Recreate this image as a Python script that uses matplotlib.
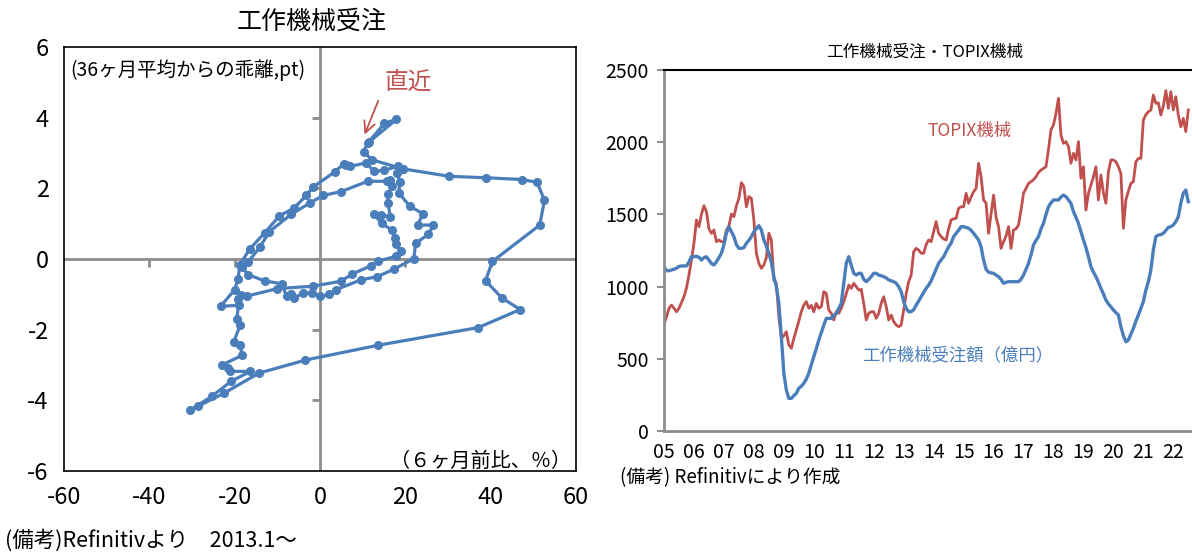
import matplotlib.pyplot as plt
import numpy as np

plt.rcParams['font.family'] = ['Noto Sans CJK JP', 'DejaVu Sans']
plt.rcParams['axes.unicode_minus'] = False

BLUE = '#4a7ebb'
RED = '#c0504d'
GRAY = '#8c8c8c'
NUM_FONT = ['Liberation Sans Narrow', 'Noto Sans CJK JP']

# 工作機械受注のサイクル (2013.1～): x = 6ヶ月前比(%), y = 36ヶ月平均からの乖離(pt)
chg_6m = [
    -19.2, -18.6, -17.1, -10.1, -1.7, 4.9, 7.6, 12.0, 13.6, 17.9, 18.9, 17.7,
    17.5, 16.9, 14.5, 12.6, 14.3, 16.5, 15.9, 15.9, 16.9, 16.5, 15.8, 11.2,
    5.0, 0.8, -2.3, -6.8, -11.9, -14.1, -16.9, -18.3,
    -16.9, -13.0, -9.0, -7.8, -6.8, -6.0, -4.0, -1.8, 0.1, 2.1, 3.7, 9.6,
    13.4, 17.3, 22.0,
    22.4, 25.4, 26.6, 22.9, 24.1, 21.0, 18.5, 18.7, 18.1, 19.5, 18.3, 15.0,
    12.7, 10.8, 7.0, 6.0, 5.6, 3.4, -1.6, -3.2, -6.0, -9.5, -12.9, -16.5, -18.8,
    -19.2, -20.0, -23.3, -19.1, -19.5, -18.7, -20.2, -18.7, -18.3, -23.0,
    -21.6, -21.2, -16.3, -20.8, -25.4, -30.4, -28.6, -22.4, -14.3, -3.4,
    13.7, 37.1, 46.9, 42.6, 38.8, 40.4, 51.5, 52.6, 50.9, 47.3, 38.8, 30.3,
    19.5, 12.1, 10.2, 11.2, 15.1, 17.9, 11.6,
]
dev_36m = [
    -1.12, -1.03, -1.05, -0.84, -0.77, -0.63, -0.42, -0.19, -0.06, 0.08, 0.22, 0.42,
    0.59, 0.81, 1.01, 1.26, 1.24, 1.20, 1.59, 1.83, 2.08, 2.23, 2.20, 2.20,
    1.91, 1.80, 1.59, 1.26, 0.77, 0.33, -0.09, -0.23,
    -0.44, -0.62, -0.70, -1.06, -1.00, -1.10, -0.96, -0.96, -1.06, -1.00, -0.87, -0.59,
    -0.50, -0.29, 0.01,
    0.44, 0.70, 0.96, 0.96, 1.28, 1.50, 1.87, 2.17, 2.44, 2.55, 2.62, 2.51,
    2.48, 2.72, 2.62, 2.67, 2.70, 2.46, 2.04, 1.80, 1.45, 1.22, 0.75, 0.28, -0.17,
    -0.56, -0.87, -1.34, -1.31, -1.69, -1.87, -2.34, -2.42, -2.73, -3.00,
    -3.09, -3.18, -3.18, -3.46, -3.89, -4.28, -4.17, -3.79, -3.23, -2.86,
    -2.44, -1.94, -1.43, -1.10, -0.61, -0.07, 0.96, 1.66, 2.17, 2.25, 2.30, 2.34,
    2.55, 2.81, 3.04, 3.28, 3.84, 3.95, 3.32,
]

# 月次 2005.1～2022.7
orders = [
    1138, 1110, 1110, 1115, 1120, 1127, 1140, 1143, 1143, 1143, 1170, 1207,
    1207, 1210, 1203, 1184, 1200, 1207, 1184, 1160, 1150, 1172, 1200, 1231,
    1290, 1370, 1415, 1380, 1346, 1290, 1265, 1265, 1270, 1300, 1320, 1346,
    1380, 1400, 1422, 1392, 1323, 1280, 1231, 1170, 1069, 1000, 884, 653,
    400, 284, 226, 226, 245, 261, 296, 310, 330, 360, 400, 460,
    515, 570, 630, 680, 734, 780, 780, 780, 800, 815, 850, 884,
    1023, 1161, 1207, 1150, 1092, 1080, 1092, 1092, 1050, 1034, 1050, 1069,
    1092, 1092, 1080, 1075, 1069, 1060, 1046, 1040, 1034, 1023, 999, 965,
    896, 850, 826, 826, 840, 872, 900, 930, 960, 988, 1010, 1040,
    1080, 1120, 1161, 1185, 1207, 1242, 1276, 1300, 1346, 1369, 1390, 1415,
    1415, 1410, 1404, 1390, 1369, 1346, 1323, 1276, 1184, 1120, 1100, 1095,
    1092, 1080, 1069, 1050, 1023, 1030, 1034, 1034, 1034, 1034, 1034, 1050,
    1080, 1120, 1161, 1220, 1288, 1320, 1346, 1400, 1438, 1500, 1553, 1580,
    1600, 1600, 1600, 1620, 1634, 1623, 1600, 1577, 1519, 1480, 1438, 1380,
    1323, 1270, 1207, 1138, 1100, 1069, 1030, 988, 950, 907, 880, 860,
    838, 820, 803, 722, 660, 618, 630, 670, 711, 760, 803, 850,
    896, 976, 1034, 1115, 1253, 1346, 1357, 1360, 1369, 1390, 1410, 1415,
    1427, 1450, 1484, 1577, 1646, 1669, 1588,
]
topix_mach = [
    741, 790, 850, 872, 850, 826, 850, 890, 930, 990, 1080, 1184,
    1300, 1461, 1415, 1500, 1560, 1519, 1400, 1369, 1392, 1311, 1323, 1311,
    1311, 1392, 1420, 1503, 1484, 1560, 1611, 1720, 1692, 1553, 1623, 1611,
    1461, 1231, 1161, 1127, 1150, 1200, 1369, 1323, 1046, 1023, 792, 642,
    660, 688, 596, 573, 640, 700, 760, 826, 872, 896, 850, 870,
    826, 884, 850, 861, 965, 953, 838, 815, 769, 826, 815, 850,
    896, 950, 1011, 988, 1023, 1000, 976, 981, 884, 769, 815, 826,
    826, 780, 815, 884, 930, 861, 769, 803, 757, 734, 722, 734,
    838, 950, 1034, 1080, 1242, 1265, 1253, 1231, 1231, 1290, 1323, 1311,
    1380, 1450, 1369, 1346, 1330, 1323, 1400, 1461, 1470, 1473, 1542, 1553,
    1553, 1646, 1577, 1620, 1657, 1680, 1854, 1761, 1600, 1577, 1369, 1500,
    1634, 1480, 1415, 1265, 1311, 1350, 1415, 1265, 1392, 1400, 1427, 1530,
    1646, 1680, 1715, 1727, 1740, 1761, 1790, 1807, 1819, 1830, 1950, 2085,
    2119, 2200, 2304, 2050, 1992, 2004, 1969, 1854, 1923, 1877, 2004, 1750,
    1830, 1530, 1646, 1704, 1760, 1830, 1600, 1773, 1650, 1577, 1796, 1877,
    1877, 1865, 1830, 1785, 1404, 1600, 1660, 1715, 1727, 1865, 1888, 1888,
    2154, 2190, 2211, 2223, 2327, 2269, 2273, 2188, 2250, 2357, 2235, 2350,
    2223, 2315, 2188, 2107, 2165, 2073, 2223,
]
year_ticks = list(range(2005, 2023))

W, H = 1192, 554
fig = plt.figure(figsize=(W / 100, H / 100), dpi=100)

# ---- 左: 工作機械受注サイクル ----
ax1 = fig.add_axes([64 / W, 83 / H, 512 / W, 424 / H])
ax1.axhline(0, color=GRAY, lw=2, zorder=1)
ax1.axvline(0, color=GRAY, lw=2, zorder=1)
ax1.plot([-40, -20, 20, 40], [0] * 4, ls='none', marker=3, ms=6, mew=2, color=GRAY, zorder=1)
ax1.plot([0] * 4, [-4, -2, 2, 4], ls='none', marker=0, ms=6, mew=2, color=GRAY, zorder=1)
ax1.plot(chg_6m, dev_36m, '-o', color=BLUE, lw=2.3, ms=5.5, zorder=3)
ax1.set_xlim(-60, 60)
ax1.set_ylim(-6, 6)
ax1.set_xticks(range(-60, 61, 20))
ax1.set_yticks(range(-6, 7, 2))
ax1.tick_params(length=0, labelsize=17, pad=11)
for lab in ax1.get_xticklabels() + ax1.get_yticklabels():
    lab.set_family(NUM_FONT)
for s in ax1.spines.values():
    s.set_color('black')
    s.set_linewidth(1.2)

ax1.text(0.012, 0.946, '(36ヶ月平均からの乖離,pt)', transform=ax1.transAxes,
         fontsize=14, va='center', ha='left')
ax1.text(0.99, 0.022, '（６ヶ月前比、％）', transform=ax1.transAxes,
         fontsize=14.5, va='center', ha='right')
ax1.text(20.6, 5.0, '直近', color=RED, fontsize=17, ha='center', va='center')
ax1.annotate('', xy=(10.2, 3.45), xytext=(13.9, 4.55),
             arrowprops=dict(arrowstyle='->', color=RED, lw=1.3, mutation_scale=20))

fig.text(312 / W, 1 - 22 / H, '工作機械受注', fontsize=18, ha='center', va='center')
fig.text(5 / W, 1 - 540 / H, '(備考)Refinitivより　2013.1～', fontsize=15.5, ha='left', va='center')

# ---- 右: 工作機械受注額とTOPIX機械 ----
t = 2005 + np.arange(len(orders)) / 12
ax2 = fig.add_axes([664 / W, 123 / H, 528 / W, 361 / H])
ax2.plot(t, topix_mach, color=RED, lw=2)
ax2.plot(t, orders, color=BLUE, lw=2.4)
ax2.set_xlim(2005, 2005 + 528 / 29.96)
ax2.set_ylim(0, 2500)
ax2.set_yticks(range(0, 2501, 500))
ax2.set_xticks(year_ticks)
ax2.set_xticklabels([f'{y % 100:02d}' for y in year_ticks])
ax2.tick_params(axis='y', length=5, width=1.5, color=GRAY, labelsize=14, pad=6)
ax2.tick_params(axis='x', length=0, labelsize=14, pad=8)
for lab in ax2.get_xticklabels() + ax2.get_yticklabels():
    lab.set_family(NUM_FONT)
ax2.spines['right'].set_visible(False)
ax2.spines['top'].set_color('black')
ax2.spines['top'].set_linewidth(1.5)
for side in ('left', 'bottom'):
    ax2.spines[side].set_color(GRAY)
    ax2.spines[side].set_linewidth(2)

ax2.text(2013.8, 2080, 'TOPIX機械', color=RED, fontsize=12.5, ha='left', va='center')
ax2.text(2011.6, 525, '工作機械受注額（億円）', color=BLUE, fontsize=12.5, ha='left', va='center')

fig.text(925 / W, 1 - 52 / H, '工作機械受注・TOPIX機械', fontsize=12, ha='center', va='center')
fig.text(620 / W, 1 - 478 / H, '(備考) Refinitivにより作成', fontsize=13.5, ha='left', va='center')

fig.savefig('out.png', dpi=100)
